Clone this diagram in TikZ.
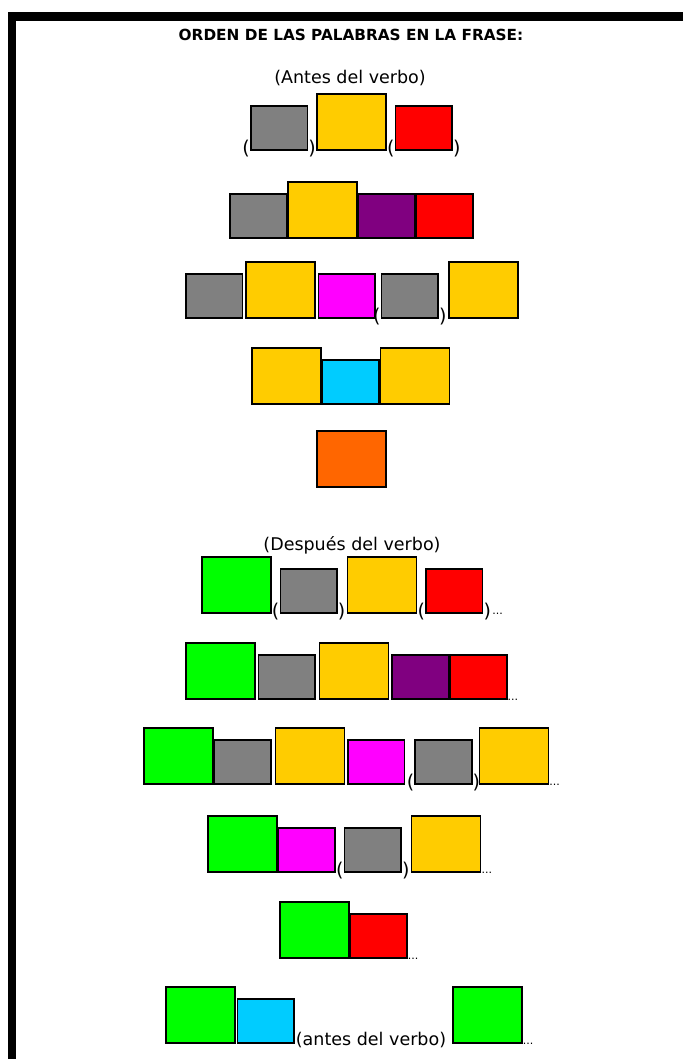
\documentclass[tikz,border=0pt]{standalone}
\usepackage{fontspec}
\setmainfont{DejaVu Sans}
\usepackage{tikz}
\usetikzlibrary{positioning}

\definecolor{gris}{HTML}{808080}
\definecolor{amarillo}{HTML}{FFCC00}
\definecolor{rojo}{HTML}{FF0000}
\definecolor{morado}{HTML}{800080}
\definecolor{rosa}{HTML}{FF00FF}
\definecolor{celeste}{HTML}{00CCFF}
\definecolor{naranja}{HTML}{FF6600}
\definecolor{verde}{HTML}{00FF00}

\begin{document}
\begin{tikzpicture}[x=1pt, y=-1pt,
  pieza/.style={draw, line width=1.6pt, anchor=south west, inner sep=0pt},
  grande/.style={pieza, minimum width=69pt, minimum height=56pt},
  chica/.style={pieza, minimum width=56.5pt, minimum height=44pt},
  abre/.style={font=\fontsize{19}{19}\selectfont, inner sep=0pt, anchor=south east, yshift=-6pt},
  cierra/.style={font=\fontsize{19}{19}\selectfont, inner sep=0pt, anchor=south west, yshift=-6pt},
  puntos/.style={font=\fontsize{11}{11}\selectfont, inner sep=0pt, anchor=south west, yshift=-1pt},
  rotulo/.style={font=\fontsize{17.5}{17.5}\selectfont, inner sep=0pt},
]
  \useasboundingbox (0,0) rectangle (683,1059);
  \draw[line width=8.5pt] (683,16.5) -- (12,16.5) -- (12,1062);

  \node[rotulo, font=\bfseries\fontsize{15.3}{15.3}\selectfont] (titulo) at (351,35) {ORDEN DE LAS PALABRAS EN LA FRASE:};
  \node[rotulo] (antes) at (350,78) {(Antes del verbo)};

  % antes del verbo
  \node[chica, fill=gris]     (a1) at (250,151) {};
  \node[grande, fill=amarillo] (a2) at ([xshift=8pt]a1.south east) {};
  \node[chica, fill=rojo]     (a3) at ([xshift=8pt]a2.south east) {};
  \node[abre]   (a1i) at (a1.south west) {(};
  \node[cierra] (a1d) at (a1.south east) {)};
  \node[abre]   (a3i) at (a3.south west) {(};
  \node[cierra] (a3d) at (a3.south east) {)};

  \node[chica, fill=gris]      (b1) at (229,239) {};
  \node[grande, fill=amarillo] (b2) at (b1.south east) {};
  \node[chica, fill=morado]    (b3) at (b2.south east) {};
  \node[chica, fill=rojo]      (b4) at (b3.south east) {};

  \node[chica, fill=gris]      (c1) at (185,319) {};
  \node[grande, fill=amarillo] (c2) at ([xshift=2pt]c1.south east) {};
  \node[chica, fill=rosa]      (c3) at ([xshift=2pt]c2.south east) {};
  \node[chica, fill=gris]      (c4) at ([xshift=5pt]c3.south east) {};
  \node[grande, fill=amarillo] (c5) at ([xshift=9pt]c4.south east) {};
  \node[abre]   (c4i) at (c4.south west) {(};
  \node[cierra] (c4d) at (c4.south east) {)};

  \node[grande, fill=amarillo] (d1) at (251,405) {};
  \node[chica, fill=celeste]   (d2) at (d1.south east) {};
  \node[grande, fill=amarillo] (d3) at (d2.south east) {};

  \node[grande, fill=naranja]  (e1) at (316,488) {};

  % despues del verbo
  \node[rotulo] (despues) at (352,545) {(Después del verbo)};

  \node[grande, fill=verde]    (f1) at (201,614) {};
  \node[chica, fill=gris]      (f2) at ([xshift=8pt]f1.south east) {};
  \node[grande, fill=amarillo] (f3) at ([xshift=9pt]f2.south east) {};
  \node[chica, fill=rojo]      (f4) at ([xshift=8pt]f3.south east) {};
  \node[abre]   (f2i) at (f2.south west) {(};
  \node[cierra] (f2d) at (f2.south east) {)};
  \node[abre]   (f4i) at (f4.south west) {(};
  \node[cierra] (f4d) at (f4.south east) {)};
  \node[puntos] (f5) at ([xshift=1pt]f4d.east |- f4.south) {...};

  \node[grande, fill=verde]    (g1) at (185,700) {};
  \node[chica, fill=gris]      (g2) at ([xshift=2pt]g1.south east) {};
  \node[grande, fill=amarillo] (g3) at ([xshift=3pt]g2.south east) {};
  \node[chica, fill=morado]    (g4) at ([xshift=2pt]g3.south east) {};
  \node[chica, fill=rojo]      (g5) at (g4.south east) {};
  \node[puntos] (g6) at (g5.south east) {...};

  \node[grande, fill=verde]    (h1) at (143,785) {};
  \node[chica, fill=gris]      (h2) at (h1.south east) {};
  \node[grande, fill=amarillo] (h3) at ([xshift=3pt]h2.south east) {};
  \node[chica, fill=rosa]      (h4) at ([xshift=2pt]h3.south east) {};
  \node[chica, fill=gris]      (h5) at ([xshift=9pt]h4.south east) {};
  \node[grande, fill=amarillo] (h6) at ([xshift=6pt]h5.south east) {};
  \node[abre]   (h5i) at (h5.south west) {(};
  \node[cierra] (h5d) at (h5.south east) {)};
  \node[puntos] (h7) at (h6.south east) {...};

  \node[grande, fill=verde]    (i1) at (207,873) {};
  \node[chica, fill=rosa]      (i2) at (i1.south east) {};
  \node[chica, fill=gris]      (i3) at ([xshift=8pt]i2.south east) {};
  \node[grande, fill=amarillo] (i4) at ([xshift=9pt]i3.south east) {};
  \node[abre]   (i3i) at (i3.south west) {(};
  \node[cierra] (i3d) at (i3.south east) {)};
  \node[puntos] (i5) at (i4.south east) {...};

  \node[grande, fill=verde]    (j1) at (279,959) {};
  \node[chica, fill=rojo]      (j2) at (j1.south east) {};
  \node[puntos] (j3) at (j2.south east) {...};

  \node[grande, fill=verde]    (k1) at (165,1044) {};
  \node[chica, fill=celeste]   (k2) at ([xshift=1pt]k1.south east) {};
  \node[rotulo, anchor=south west, yshift=-4pt] (k3) at ([xshift=1pt]k2.south east) {(antes del verbo)};
  \node[grande, fill=verde]    (k4) at (452,1044) {};
  \node[puntos] (k5) at (k4.south east) {...};
\end{tikzpicture}
\end{document}
